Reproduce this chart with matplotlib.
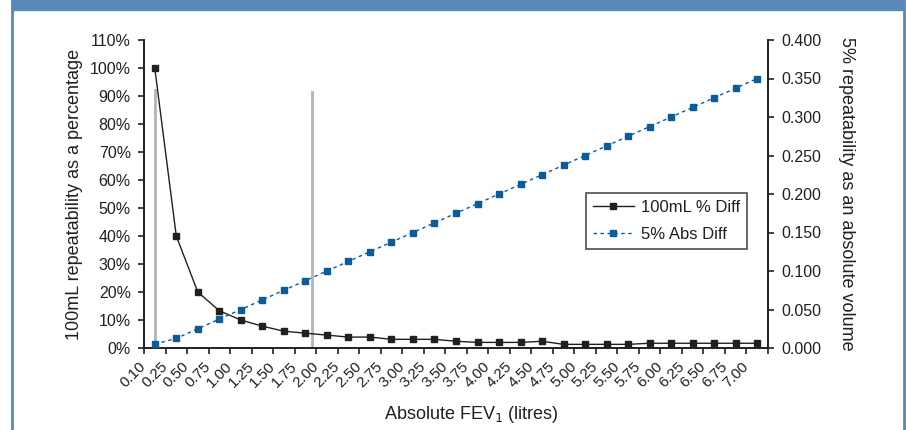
import matplotlib
matplotlib.use('Agg')
import matplotlib.pyplot as plt
from matplotlib.patches import Rectangle
from matplotlib.lines import Line2D
import numpy as np

# category labels (FEV1 in litres)
fev_labels = ['0.10', '0.25', '0.50', '0.75', '1.00', '1.25', '1.50', '1.75', '2.00',
              '2.25', '2.50', '2.75', '3.00', '3.25', '3.50', '3.75', '4.00', '4.25',
              '4.50', '4.75', '5.00', '5.25', '5.50', '5.75', '6.00', '6.25', '6.50',
              '6.75', '7.00']

# 100mL difference as a share of FEV1
pct_diff = [1.00, 0.40, 0.20, 0.133, 0.10, 0.078, 0.060, 0.053, 0.046,
            0.039, 0.039, 0.031, 0.031, 0.031, 0.024, 0.020, 0.020, 0.020,
            0.024, 0.013, 0.013, 0.013, 0.013, 0.017, 0.017, 0.017, 0.017,
            0.017, 0.017]

# 5% of FEV1 as an absolute volume
abs_diff = [0.005, 0.0125, 0.025, 0.0375, 0.05, 0.0625, 0.075, 0.0875, 0.10,
            0.1125, 0.125, 0.1375, 0.15, 0.1625, 0.175, 0.1875, 0.20, 0.2125,
            0.225, 0.2375, 0.25, 0.2625, 0.275, 0.2875, 0.30, 0.3125, 0.325,
            0.3375, 0.35]

# grey reference lines (category position, height)
ref_lines = [(0.0, 0.92), (7.32, 0.915)]

plt.rcParams['font.family'] = ['Liberation Sans', 'DejaVu Sans']
TXT = '#231F20'
BLUE = '#0B5C99'
FRAME = '#5889B9'

fig = plt.figure(figsize=(9.06, 4.30), dpi=100)

# blue frame and header band
fig.patches.append(Rectangle((12 / 906, 1 - 10 / 430), 892 / 906, 10 / 430,
                             transform=fig.transFigure, color=FRAME, zorder=0))
fig.add_artist(Line2D([12 / 906, 12 / 906], [0, 1], transform=fig.transFigure, color=FRAME, lw=2))
fig.add_artist(Line2D([904 / 906, 904 / 906], [0, 1], transform=fig.transFigure, color=FRAME, lw=2))

ax = fig.add_axes([144 / 906, 1 - 348 / 430, 624 / 906, 308 / 430])
ax2 = ax.twinx()

x = np.arange(len(fev_labels))

for xp, h in ref_lines:
    ax.plot([xp, xp], [0, h], color='#B3B3B3', lw=2, zorder=1)

l1, = ax.plot(x, pct_diff, color=TXT, lw=1, marker='s', markersize=4,
              markerfacecolor=TXT, markeredgecolor=TXT, label='100mL % Diff', zorder=3)
l2, = ax2.plot(x, abs_diff, color=BLUE, lw=1, linestyle=(0, (2.5, 2.5)), marker='s',
               markersize=4.5, markerfacecolor=BLUE, markeredgecolor=BLUE,
               label='5% Abs Diff', zorder=3)

ax.set_yticks(np.arange(0, 1.11, 0.1))
ax.set_yticklabels([f'{int(round(v * 100))}%' for v in np.arange(0, 1.11, 0.1)])
ax2.set_yticks(np.arange(0, 0.401, 0.05))
ax2.set_yticklabels([f'{v:.3f}' for v in np.arange(0, 0.401, 0.05)])

for a in (ax, ax2):
    a.spines['top'].set_visible(False)
    for s in a.spines.values():
        s.set_color(TXT)
        s.set_linewidth(1.2)
    a.tick_params(colors=TXT, labelsize=11.5, width=1.2, length=4.5, pad=5, direction='out')

# tick marks on category boundaries; each label hangs just left of its boundary
ax.set_xticks(np.arange(-0.5, len(fev_labels) + 0.5))
ax.set_xticklabels([])
ax.tick_params(axis='x', length=4)
for i, lab in enumerate(fev_labels):
    ax.annotate(lab, xy=(i - 0.5, 0), xycoords=ax.get_xaxis_transform(),
                xytext=(-5, -11), textcoords='offset pixels', rotation=45,
                rotation_mode='anchor', ha='right', va='top', fontsize=11, color=TXT)

ax.set_xlim(-0.5, len(fev_labels) - 0.5)
ax.set_ylim(0, 1.1)
ax2.set_ylim(0, 0.4)

ax.set_ylabel('100mL repeatability as a percentage', fontsize=13, color=TXT)
ax.yaxis.set_label_coords(-0.097, 0.5)
ax2.set_ylabel('5% repeatability as an absolute volume', fontsize=13, color=TXT,
               rotation=270, va='center')
ax2.yaxis.set_label_coords(1.125, 0.5)
ax.set_xlabel('Absolute FEV$_1$ (litres)', fontsize=13, color=TXT)
ax.xaxis.set_label_coords(0.524, -0.182)

leg = ax2.legend(handles=[l1, l2], loc='upper right', bbox_to_anchor=(0.966, 0.503),
                 borderaxespad=0, fontsize=12, frameon=True, fancybox=False,
                 handlelength=2.5, handletextpad=0.4, labelspacing=0.75,
                 numpoints=1, labelcolor=TXT)
leg.get_frame().set_edgecolor(TXT)
leg.get_frame().set_linewidth(1.2)

fig.savefig('out.png', dpi=100)
